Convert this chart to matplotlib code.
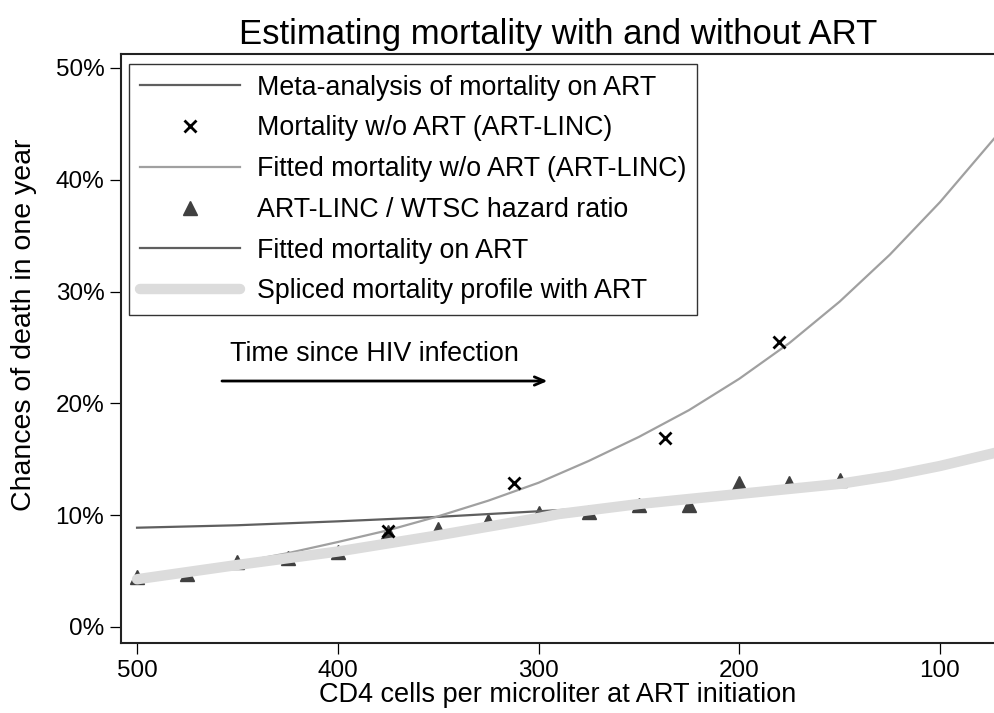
import matplotlib
matplotlib.use("Agg")
import matplotlib.pyplot as plt
from matplotlib.ticker import FuncFormatter

plt.rcParams['font.family'] = ['Liberation Sans', 'DejaVu Sans']

# --- data (mortality in % per year, by CD4 count at ART start) ---
cd4_meta = [500, 450, 400, 350, 300, 275]
meta_mort = [8.88, 9.1, 9.45, 9.85, 10.35, 10.6]

cd4_linc = [375, 312, 237, 180]
linc_mort = [8.6, 12.9, 16.9, 25.5]

cd4_fit = [500, 475, 450, 425, 400, 375, 350, 325, 300, 275, 250, 225,
           200, 175, 150, 125, 100, 72]
fit_no_art = [4.4, 5.0, 5.75, 6.6, 7.6, 8.65, 9.9, 11.3, 12.9, 14.85, 17.0,
              19.4, 22.2, 25.4, 29.1, 33.3, 38.0, 43.9]

cd4_hr = [500, 475, 450, 425, 400, 375, 350, 325, 300, 275, 250, 225, 200,
          175, 150]
hr_mort = [4.45, 4.77, 5.8, 6.2, 6.75, 8.5, 8.8, 9.45, 10.2, 10.3, 10.9,
           10.9, 12.85, 12.85, 13.15]

cd4_fit_art = [500, 450, 400, 350, 300]
fit_art = [4.3, 5.55, 6.75, 8.2, 9.7]

cd4_splice = [500, 450, 400, 350, 300, 290, 250, 200, 150, 125, 100, 72]
splice_mort = [4.27, 5.55, 6.75, 8.2, 9.75, 10.1, 11.0, 11.9, 12.8, 13.5,
               14.4, 15.6]

yticks = [0, 10, 20, 30, 40, 50]
xticks = [500, 400, 300, 200, 100]

fig = plt.figure(figsize=(9.95, 7.13), dpi=100)
ax = fig.add_axes([0.1216, 0.0982, 0.8784, 0.8261])

ax.plot(cd4_hr, hr_mort, linestyle='none', marker='^', ms=10.5,
        color='#404040', mec='#404040', zorder=2,
        label='ART-LINC / WTSC hazard ratio')
ax.plot(cd4_meta, meta_mort, color='#5f5f5f', lw=1.6, zorder=3,
        label='Meta-analysis of mortality on ART')
ax.plot(cd4_fit, fit_no_art, color='#a0a0a0', lw=1.6, zorder=4,
        label='Fitted mortality w/o ART (ART-LINC)')
ax.plot(cd4_fit_art, fit_art, color='#5f5f5f', lw=1.6, zorder=4,
        label='Fitted mortality on ART')
ax.plot(cd4_splice, splice_mort, color='#dcdcdc', lw=7.5,
        solid_capstyle='round', zorder=5,
        label='Spliced mortality profile with ART')
ax.plot(cd4_linc, linc_mort, linestyle='none', marker='x', ms=8, mew=2,
        color='black', zorder=6, label='Mortality w/o ART (ART-LINC)')

ax.set_xlim(508, 72.6)
ax.set_ylim(-1.43, 51.25)
ax.set_xticks(xticks)
ax.set_yticks(yticks)
ax.yaxis.set_major_formatter(FuncFormatter(lambda v, p: '%d%%' % v))
ax.tick_params(axis='both', direction='out', length=8, width=0.9,
               labelsize=17.5, color='black')
ax.tick_params(axis='x', pad=4)
ax.tick_params(axis='y', pad=4)
for s in ax.spines.values():
    s.set_linewidth(1.5)
    s.set_color('#222222')
ax.spines['right'].set_visible(False)

ax.set_xlabel('CD4 cells per microliter at ART initiation', fontsize=19.5,
              labelpad=0)
ax.set_ylabel('Chances of death in one year', fontsize=20.5)
ax.yaxis.set_label_coords(-0.096, 0.54)
ax.set_title('Estimating mortality with and without ART', fontsize=25,
             pad=7)

# arrow annotation
ax.annotate('', xy=(295.5, 22.0), xytext=(457.7, 22.0),
            arrowprops=dict(arrowstyle='->,head_length=0.7,head_width=0.3',
                            lw=2, color='black', shrinkA=0, shrinkB=0))
ax.text(453.7, 24.4, 'Time since HIV infection', fontsize=19.4,
        ha='left', va='center')

handles, labels = ax.get_legend_handles_labels()
order = ['Meta-analysis of mortality on ART', 'Mortality w/o ART (ART-LINC)',
         'Fitted mortality w/o ART (ART-LINC)', 'ART-LINC / WTSC hazard ratio',
         'Fitted mortality on ART', 'Spliced mortality profile with ART']
hmap = dict(zip(labels, handles))
leg = ax.legend([hmap[k] for k in order], order, loc='upper left',
                bbox_to_anchor=(0.00915, 0.983), borderaxespad=0,
                fontsize=19.3, frameon=True, fancybox=False, edgecolor='black',
                handlelength=3.73, handletextpad=0.63, labelspacing=0.55,
                borderpad=0.4)
leg.get_frame().set_linewidth(1.0)

fig.savefig('out.png', dpi=100)
